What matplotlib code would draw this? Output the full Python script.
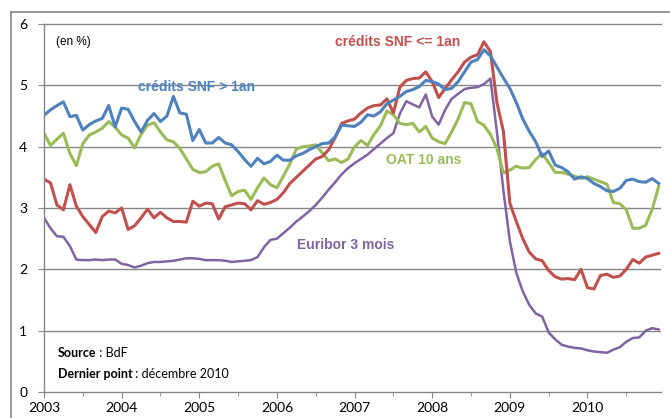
import matplotlib
matplotlib.use("Agg")
import matplotlib.pyplot as plt
from matplotlib.lines import Line2D
from matplotlib.ticker import FixedLocator

# monthly data, Jan 2003 -> Dec 2010 (96 points)
years = ["2003", "2004", "2005", "2006", "2007", "2008", "2009", "2010"]
months = list(range(96))

snf_long = [4.51, 4.60, 4.67, 4.73, 4.49, 4.51, 4.27, 4.36, 4.42, 4.46, 4.67, 4.32,
            4.63, 4.61, 4.41, 4.24, 4.43, 4.54, 4.41, 4.50, 4.82, 4.55, 4.53, 4.10,
            4.28, 4.06, 4.06, 4.15, 4.06, 4.03, 3.92, 3.79, 3.68, 3.81, 3.72, 3.76,
            3.86, 3.78, 3.78, 3.85, 3.89, 3.95, 4.00, 4.05, 4.06, 4.16, 4.35, 4.34,
            4.33, 4.40, 4.52, 4.50, 4.57, 4.70, 4.76, 4.82, 4.90, 4.93, 4.98, 5.08,
            5.06, 5.02, 4.93, 4.95, 5.06, 5.22, 5.38, 5.42, 5.58, 5.48, 5.30, 5.12,
            4.95, 4.72, 4.45, 4.25, 4.08, 3.84, 3.93, 3.70, 3.66, 3.59, 3.47, 3.51,
            3.48, 3.40, 3.35, 3.28, 3.27, 3.32, 3.45, 3.47, 3.43, 3.42, 3.48, 3.40]

snf_short = [3.47, 3.41, 3.05, 2.97, 3.38, 3.03, 2.86, 2.73, 2.60, 2.86, 2.95, 2.92,
             3.00, 2.65, 2.71, 2.84, 2.98, 2.84, 2.93, 2.84, 2.78, 2.78, 2.77, 3.11,
             3.03, 3.08, 3.07, 2.82, 3.02, 3.05, 3.08, 3.07, 2.97, 3.12, 3.06, 3.09,
             3.14, 3.25, 3.40, 3.50, 3.60, 3.70, 3.80, 3.84, 3.95, 4.15, 4.38, 4.42,
             4.45, 4.55, 4.63, 4.67, 4.68, 4.78, 4.55, 4.97, 5.08, 5.11, 5.12, 5.22,
             5.06, 4.80, 4.95, 5.09, 5.22, 5.38, 5.46, 5.50, 5.71, 5.55, 4.72, 4.25,
             3.08, 2.78, 2.50, 2.28, 2.17, 2.14, 1.98, 1.88, 1.84, 1.85, 1.83, 2.00,
             1.70, 1.68, 1.90, 1.92, 1.87, 1.89, 2.00, 2.16, 2.10, 2.20, 2.23, 2.26]

oat_10 = [4.22, 4.02, 4.12, 4.22, 3.89, 3.69, 4.05, 4.19, 4.24, 4.30, 4.41, 4.32,
          4.19, 4.14, 3.98, 4.20, 4.35, 4.39, 4.24, 4.11, 4.08, 3.97, 3.80, 3.63,
          3.58, 3.59, 3.68, 3.72, 3.45, 3.20, 3.27, 3.29, 3.14, 3.33, 3.49, 3.38,
          3.33, 3.52, 3.72, 3.96, 4.00, 4.01, 4.03, 3.90, 3.77, 3.80, 3.74, 3.80,
          4.00, 4.10, 4.02, 4.20, 4.34, 4.58, 4.52, 4.38, 4.36, 4.38, 4.24, 4.33,
          4.14, 4.08, 4.05, 4.24, 4.45, 4.72, 4.70, 4.41, 4.35, 4.20, 3.97, 3.57,
          3.62, 3.68, 3.65, 3.66, 3.79, 3.89, 3.74, 3.58, 3.58, 3.55, 3.52, 3.48,
          3.51, 3.47, 3.43, 3.39, 3.09, 3.07, 2.97, 2.67, 2.67, 2.72, 2.98, 3.35]

euribor_3m = [2.84, 2.67, 2.54, 2.53, 2.38, 2.16, 2.15, 2.15, 2.16, 2.15, 2.16, 2.16,
              2.09, 2.07, 2.03, 2.06, 2.10, 2.12, 2.12, 2.13, 2.14, 2.16, 2.18, 2.18,
              2.17, 2.15, 2.15, 2.15, 2.14, 2.12, 2.13, 2.14, 2.15, 2.20, 2.36, 2.48,
              2.50, 2.59, 2.68, 2.78, 2.86, 2.95, 3.05, 3.17, 3.30, 3.42, 3.55, 3.65,
              3.73, 3.80, 3.87, 3.96, 4.05, 4.14, 4.22, 4.54, 4.74, 4.69, 4.64, 4.85,
              4.49, 4.36, 4.60, 4.78, 4.86, 4.94, 4.96, 4.97, 5.02, 5.11, 4.24, 3.29,
              2.46, 1.94, 1.64, 1.42, 1.28, 1.23, 0.97, 0.86, 0.77, 0.74, 0.72, 0.71,
              0.68, 0.66, 0.65, 0.64, 0.69, 0.73, 0.82, 0.88, 0.89, 1.00, 1.04, 1.02]

blue = "#4F81BD"
red = "#C0504D"
green = "#9BBB59"
purple = "#8064A2"
grey = "#868686"

W, H = 670, 418
fig = plt.figure(figsize=(6.7, 4.18), dpi=100)
ax = fig.add_axes([44 / W, 1 - 392 / H, (661 - 44) / W, (392 - 24) / H])

ax.plot(months, euribor_3m, color=purple, lw=1.8, solid_joinstyle="round")
ax.plot(months, oat_10, color=green, lw=2.2, solid_joinstyle="round")
ax.plot(months, snf_short, color=red, lw=2.2, solid_joinstyle="round")
ax.plot(months, snf_long, color=blue, lw=2.2, solid_joinstyle="round")

ax.set_xlim(0, 95.36)
ax.set_ylim(0, 6)

# axes / grid
for y in range(1, 6):
    ax.axhline(y, color=grey, lw=1.0, zorder=0)
ax.spines["right"].set_visible(False)
for s in ["top", "left", "bottom"]:
    ax.spines[s].set_color(grey)
    ax.spines[s].set_linewidth(1.0)

ax.set_yticks(range(0, 7))
ax.set_yticklabels([str(v) for v in range(0, 7)])
ax.xaxis.set_major_locator(FixedLocator([12 * i for i in range(len(years))]))
ax.set_xticklabels(years)
ax.xaxis.set_minor_locator(FixedLocator([12 * i + 6 for i in range(len(years))]))

for lab in ax.get_xticklabels() + ax.get_yticklabels():
    lab.set_fontfamily("Lato")
    lab.set_fontsize(10)
ax.tick_params(axis="y", direction="out", length=4, color=grey, pad=8)
ax.tick_params(axis="x", which="major", direction="out", length=4, color=grey, pad=3)
ax.tick_params(axis="x", which="minor", direction="out", length=3, color=grey)

# series labels
lab = dict(family="Liberation Sans", size=10, fontweight="bold", va="center", ha="left")
ax.text(14.6, 4.98, "crédits SNF > 1an", color=blue, **lab)
ax.text(44.9, 5.71, "crédits SNF <= 1an", color=red, **lab)
ax.text(52.9, 3.78, "OAT 10 ans", color=green, **lab)
ax.text(39.1, 2.40, "Euribor 3 mois", color=purple, **lab)

ax.text(1.9, 5.71, "(en %)", family="Liberation Sans", size=8.5, va="center", ha="left")


def bold_then_plain(x, y, bold, plain):
    t = ax.text(x, y, bold, family="Lato", size=9, fontweight="bold", va="center", ha="left")
    fig.canvas.draw()
    bb = t.get_window_extent()
    x_end = ax.transData.inverted().transform((bb.x1, 0))[0]
    ax.text(x_end, y, plain, family="Lato", size=9, va="center", ha="left")


bold_then_plain(2.1, 0.64, "Source", " : BdF")
bold_then_plain(2.1, 0.29, "Dernier point", " : décembre 2010")

# outer frame (top and left visible)
fig.add_artist(Line2D([11 / W, 1.0], [1 - 12 / H, 1 - 12 / H], color=grey, lw=1.2,
                      transform=fig.transFigure))
fig.add_artist(Line2D([11 / W, 11 / W], [0, 1 - 12 / H], color=grey, lw=1.2,
                      transform=fig.transFigure))

fig.savefig("out.png", dpi=100)
